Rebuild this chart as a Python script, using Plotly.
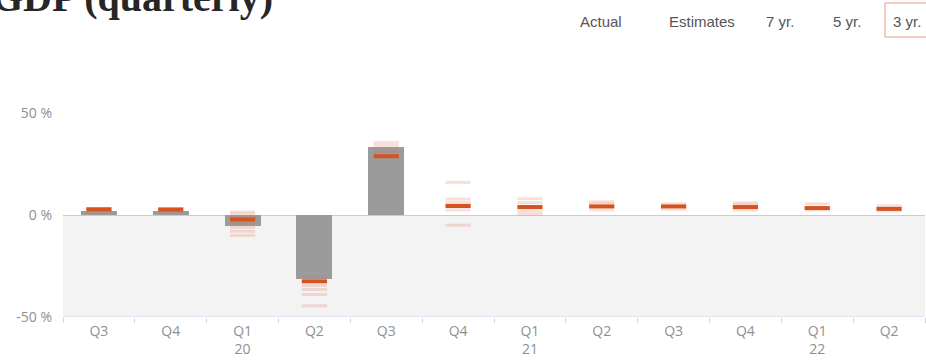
import plotly.graph_objects as go

# Quarter labels and year markers along the x axis
quarters = ["Q3", "Q4", "Q1", "Q2", "Q3", "Q4", "Q1", "Q2", "Q3", "Q4", "Q1", "Q2"]
years = ["", "", "20", "", "", "", "21", "", "", "", "22", ""]
period_ids = ["2019Q3", "2019Q4", "2020Q1", "2020Q2", "2020Q3", "2020Q4",
              "2021Q1", "2021Q2", "2021Q3", "2021Q4", "2022Q1", "2022Q2"]

# Reported GDP growth (annualised, %)
actual = [2.1, 2.1, -5.3, -31.2, 33.3, None, None, None, None, None, None, None]

# Consensus estimate (%)
estimate_mean = [2.8, 2.7, -2.2, -32.5, 28.8, 4.4, 3.9, 4.2, 4.2, 3.9, 3.4, 3.0]

# Individual forecasts around the consensus (%)
estimate_spread = [
    [1.6, 3.2],
    [1.8, 3.2],
    [1.5, 0.5, -1.0, -4.0, -6.0, -8.0, -10.0],
    [-30.5, -34.5, -36.5, -39.0, -44.5],
    [34.0, 35.5, 31.0],
    [16.0, 7.8, 6.0, 2.5, -5.0],
    [8.0, 6.0, 2.0, 0.5],
    [6.5, 5.5, 2.5],
    [5.5, 2.8],
    [6.0, 5.0, 2.5],
    [5.5, 2.5],
    [4.5, 2.0],
]

y_ticks = [-50, 0, 50]
y_ticktext = ["-50 %", "0 %", "50 %"]
buttons = ["Actual", "Estimates", "7 yr.", "5 yr.", "3 yr."]

W, H = 926, 363
M_L, M_R, M_T, M_B = 63, 1, 113, 46
PW, PH = W - M_L - M_R, H - M_T - M_B


def px_x(px):
    return (px - M_L) / PW


def px_y(py):
    return 1 + (M_T - py) / PH


spread_x = [pid for pid, vals in zip(period_ids, estimate_spread) for _ in vals]
spread_y = [v for vals in estimate_spread for v in vals]

fig = go.Figure()

fig.add_trace(go.Bar(
    x=period_ids, y=actual, width=0.5,
    marker=dict(color="#9b9b9b", line=dict(width=0)),
    hoverinfo="skip", showlegend=False,
))

fig.add_trace(go.Scatter(
    x=spread_x, y=spread_y, mode="markers",
    marker=dict(symbol="line-ew", size=18,
                line=dict(width=3, color="rgba(222,110,80,0.22)")),
    hoverinfo="skip", showlegend=False,
))

fig.add_trace(go.Scatter(
    x=period_ids, y=estimate_mean, mode="markers",
    marker=dict(symbol="line-ew", size=18,
                line=dict(width=4, color="#d4531f")),
    hoverinfo="skip", showlegend=False,
))

label_font = dict(family="Open Sans", size=14, color="#8f8f8f")

fig.update_layout(
    width=W, height=H,
    margin=dict(l=M_L, r=M_R, t=M_T, b=M_B, pad=0),
    paper_bgcolor="white", plot_bgcolor="white",
    bargap=0, showlegend=False,
    xaxis=dict(
        type="category", tickmode="array",
        tickvals=period_ids,
        ticktext=[q if not y else f"{q}<br>{y}" for q, y in zip(quarters, years)],
        tickson="boundaries", ticks="outside", ticklen=5,
        tickcolor="#ccd6eb", tickwidth=1, ticklabelstandoff=4,
        showgrid=False, showline=False, zeroline=False,
        tickfont=label_font, range=[-0.5, len(period_ids) - 0.5],
        fixedrange=True,
    ),
    yaxis=dict(
        range=[-50, 50], tickmode="array",
        tickvals=y_ticks, ticktext=y_ticktext,
        showgrid=True, gridcolor="#e6e6e6", gridwidth=1,
        zeroline=True, zerolinecolor="#cccccc", zerolinewidth=1,
        showline=False, ticks="", ticklabelstandoff=10,
        tickfont=label_font, fixedrange=True,
    ),
    shapes=[
        # shaded band for negative growth
        dict(type="rect", xref="paper", yref="y", x0=0, x1=1, y0=-50, y1=0,
             fillcolor="#f3f3f3", line=dict(width=0), layer="below"),
        # bottom axis line
        dict(type="line", xref="paper", yref="y", x0=0, x1=1, y0=-50, y1=-50,
             line=dict(color="#ccd6eb", width=1), layer="above"),
        # selected range button frame
        dict(type="rect", xref="paper", yref="paper",
             x0=px_x(885), x1=px_x(940), y0=px_y(37), y1=px_y(3),
             fillcolor="rgba(0,0,0,0)", line=dict(color="#e89a80", width=1)),
    ],
)

fig.add_annotation(
    text="<b>GDP (quarterly)</b>", xref="paper", yref="paper",
    x=px_x(-10), y=px_y(-3), xanchor="left", yanchor="middle",
    showarrow=False, font=dict(family="Liberation Serif", size=40, color="#262626"),
)

button_x = [578, 667, 764, 831, 891]
for label, bx in zip(buttons, button_x):
    fig.add_annotation(
        text=label, xref="paper", yref="paper",
        x=px_x(bx), y=px_y(21), xanchor="left", yanchor="middle",
        showarrow=False, font=dict(family="Liberation Sans", size=15, color="#555555"),
    )

fig.write_html("out.html")
